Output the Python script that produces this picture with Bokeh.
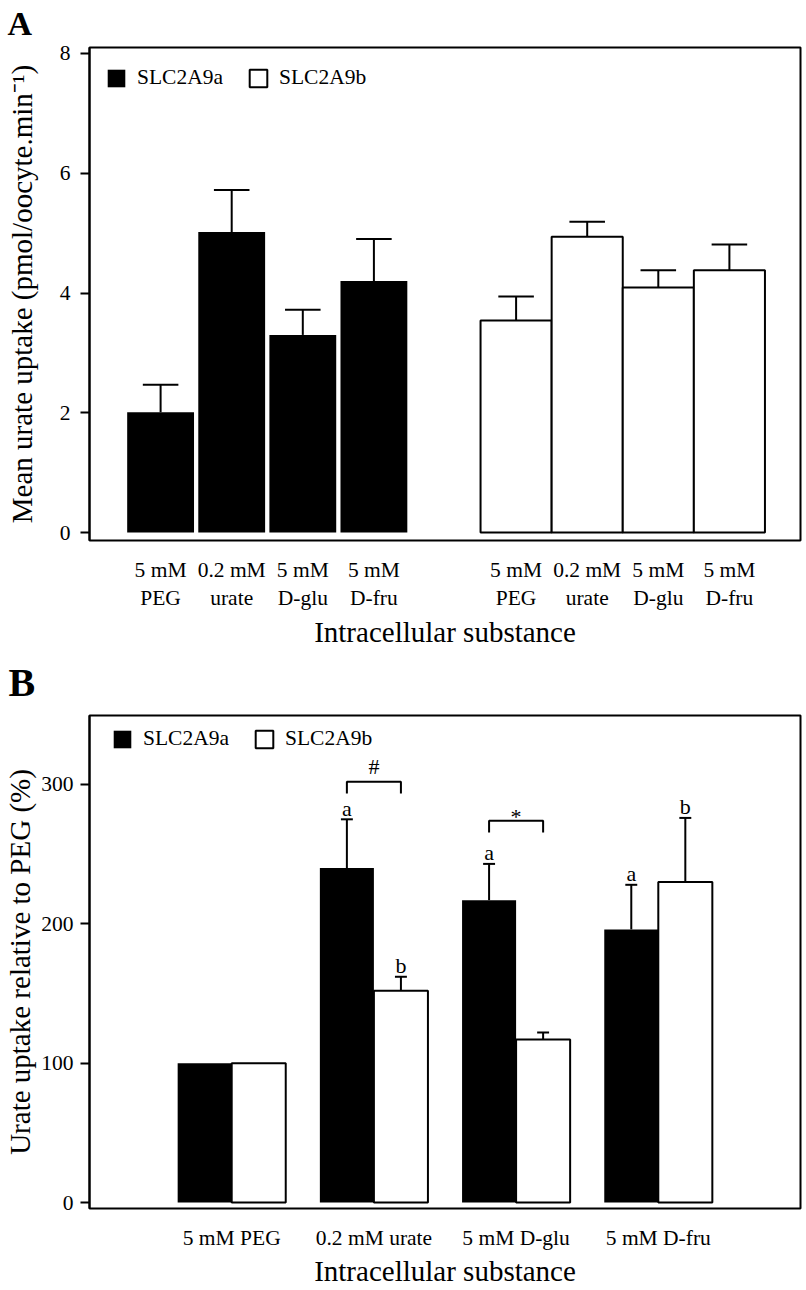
import numpy as np
from bokeh.plotting import figure
from bokeh.layouts import column
from bokeh.models import FixedTicker, Legend, LegendItem, Title
from bokeh.core.properties import value
from bokeh.embed import file_html
from bokeh.resources import INLINE

FONT = "Liberation Serif"
SMALL = "21.5px"
BIG = "29px"

# ---------------- data: panel A ----------------
substances_a = ["5 mM\nPEG", "0.2 mM\nurate", "5 mM\nD-glu", "5 mM\nD-fru"]
a_mean = [2.01, 5.02, 3.30, 4.20]
a_err = [0.46, 0.70, 0.42, 0.70]
b_mean = [3.54, 4.94, 4.09, 4.38]
b_err = [0.40, 0.25, 0.29, 0.43]

# ---------------- data: panel B ----------------
substances_b = ["5 mM PEG", "0.2 mM urate", "5 mM D-glu", "5 mM D-fru"]
a_rel = [100, 240, 217, 196]
a_rel_err = [0, 35, 26, 32]
b_rel = [100, 152, 117, 230]
b_rel_err = [0, 10, 5, 46]
a_letters = ["", "a", "a", "a"]
b_letters = ["", "b", "", "b"]
pair_marks = ["", "#", "*", ""]
pair_heights = [None, 302, 274, None]

series_names = ["SLC2A9a", "SLC2A9b"]


def style_axes(p, ylabel, yticks, y_label_standoff, y_major_label_standoff):
    p.xgrid.visible = False
    p.ygrid.visible = False
    p.outline_line_color = "black"
    p.outline_line_width = 2
    p.outline_line_alpha = 1
    p.background_fill_color = "white"
    p.border_fill_color = "white"

    xa = p.xaxis[0]
    xa.major_tick_line_color = None
    xa.major_tick_out = 0
    xa.major_tick_in = 0
    xa.minor_tick_line_color = None
    xa.axis_line_color = None
    xa.major_label_text_font = FONT
    xa.major_label_text_font_size = SMALL
    xa.major_label_text_color = "black"
    xa.axis_label = "Intracellular substance"
    xa.axis_label_text_font = FONT
    xa.axis_label_text_font_size = BIG
    xa.axis_label_text_font_style = "normal"
    xa.axis_label_text_color = "black"

    ya = p.yaxis[0]
    ya.ticker = FixedTicker(ticks=yticks)
    ya.major_tick_out = 9
    ya.major_tick_in = 0
    ya.major_tick_line_width = 2
    ya.major_tick_line_color = "black"
    ya.minor_tick_line_color = None
    ya.axis_line_width = 2
    ya.axis_line_color = "black"
    ya.major_label_text_font = FONT
    ya.major_label_text_font_size = SMALL
    ya.major_label_text_color = "black"
    ya.major_label_standoff = y_major_label_standoff
    ya.axis_label = ylabel
    ya.axis_label_text_font = FONT
    ya.axis_label_text_font_size = BIG
    ya.axis_label_text_font_style = "normal"
    ya.axis_label_text_color = "black"
    ya.axis_label_standoff = y_label_standoff


def make_legend(p, r1, r2, loc):
    leg = Legend(
        items=[LegendItem(label=series_names[0], renderers=[r1]),
               LegendItem(label=series_names[1], renderers=[r2])],
        location=loc, orientation="horizontal",
        glyph_width=22, glyph_height=22, label_standoff=10, spacing=24,
        padding=0, margin=0, border_line_color=None, background_fill_alpha=0,
        label_text_font=FONT, label_text_font_size=SMALL, label_text_color="black",
    )
    p.add_layout(leg)


def panel_title(p, text, size, offset, standoff):
    p.add_layout(Title(text=text, align="left", vertical_align="top", offset=offset,
                       standoff=standoff, text_font=FONT, text_font_style="bold",
                       text_font_size=size, text_color="black"), "above")


# ================= Panel A =================
pA = figure(width=806, height=651, x_range=(0, 10), y_range=(-0.133, 8.1),
            output_backend="svg", toolbar_location=None,
            min_border_left=89, min_border_right=6, min_border_top=47, min_border_bottom=110)
style_axes(pA, "Mean urate uptake (pmol/oocyte.min\u207b\u00b9)", [0, 2, 4, 6, 8], 19, 10)
panel_title(pA, "A", "34px", -82, 7)

xa_pos = np.arange(1, len(a_mean) + 1)
xb_pos = np.arange(len(a_mean) + 2, 2 * len(a_mean) + 2)

rA1 = pA.vbar(x=xa_pos, top=a_mean, bottom=0, width=0.94, fill_color="black", line_color=None)
rA2 = pA.vbar(x=xb_pos, top=b_mean, bottom=0, width=1.0, fill_color="white",
              line_color="black", line_width=2)

for xs, m, e in ((xa_pos, a_mean, a_err), (xb_pos, b_mean, b_err)):
    m = np.array(m)
    up = m + np.array(e)
    pA.segment(x0=xs, y0=m, x1=xs, y1=up, line_color="black", line_width=2)
    pA.segment(x0=xs - 0.25, y0=up, x1=xs + 0.25, y1=up, line_color="black", line_width=2)

pA.xaxis[0].ticker = FixedTicker(ticks=[int(v) for v in xa_pos] + [int(v) for v in xb_pos])
pA.xaxis[0].major_label_overrides = {
    int(x): lab for x, lab in zip(list(xa_pos) + list(xb_pos), substances_a + substances_a)
}
pA.xaxis[0].major_label_standoff = 17
pA.xaxis[0].axis_label_standoff = 3

make_legend(pA, rA1, rA2, (16, 450))

# ================= Panel B =================
pB = figure(width=806, height=638, x_range=(0, 5), y_range=(-4.3, 349.5),
            output_backend="svg", toolbar_location=None,
            min_border_left=88, min_border_right=4, min_border_top=64, min_border_bottom=81)
style_axes(pB, "Urate uptake relative to PEG (%)", [0, 100, 200, 300], 2, 7)
panel_title(pB, "B", "40px", -81, 17)

g = np.arange(1, len(a_rel) + 1)
off = 0.19
bw = 0.38
xg_a = g - off
xg_b = g + off

rB1 = pB.vbar(x=xg_a, top=a_rel, bottom=0, width=bw, fill_color="black", line_color=None)
rB2 = pB.vbar(x=xg_b, top=b_rel, bottom=0, width=bw, fill_color="white",
              line_color="black", line_width=2)

LETTER_GAP = 8.0   # data units between cap and letter centre line
for xs, m, e, lets in ((xg_a, a_rel, a_rel_err, a_letters), (xg_b, b_rel, b_rel_err, b_letters)):
    m = np.array(m, dtype=float)
    e = np.array(e, dtype=float)
    keep = e > 0
    up = m + e
    pB.segment(x0=xs[keep], y0=m[keep], x1=xs[keep], y1=up[keep], line_color="black", line_width=2)
    pB.segment(x0=xs[keep] - 0.042, y0=up[keep], x1=xs[keep] + 0.042, y1=up[keep],
               line_color="black", line_width=2)
    pB.text(x=xs, y=up + LETTER_GAP, text=lets, text_align="center", text_baseline="middle",
            text_font=value(FONT), text_font_size=value("22px"), text_color="black")

for gi, mark, h in zip(g, pair_marks, pair_heights):
    if not mark:
        continue
    x0, x1 = gi - off, gi + off
    pB.line(x=[x0, x0, x1, x1], y=[h - 8.5, h, h, h - 8.5], line_color="black", line_width=2)
    pB.text(x=[gi], y=[h + (11.0 if mark == "#" else 3.0)], text=[mark], text_align="center",
            text_baseline="middle", text_font=value(FONT),
            text_font_size=value("22px"), text_color="black")

pB.xaxis[0].ticker = FixedTicker(ticks=[int(v) for v in g])
pB.xaxis[0].major_label_overrides = {int(x): lab for x, lab in zip(g, substances_b)}
pB.xaxis[0].major_label_standoff = 17
pB.xaxis[0].axis_label_standoff = 2

make_legend(pB, rB1, rB2, (22, 457))

layout = column(pA, pB, spacing=0)
open("out.html", "w").write(file_html(layout, INLINE))
